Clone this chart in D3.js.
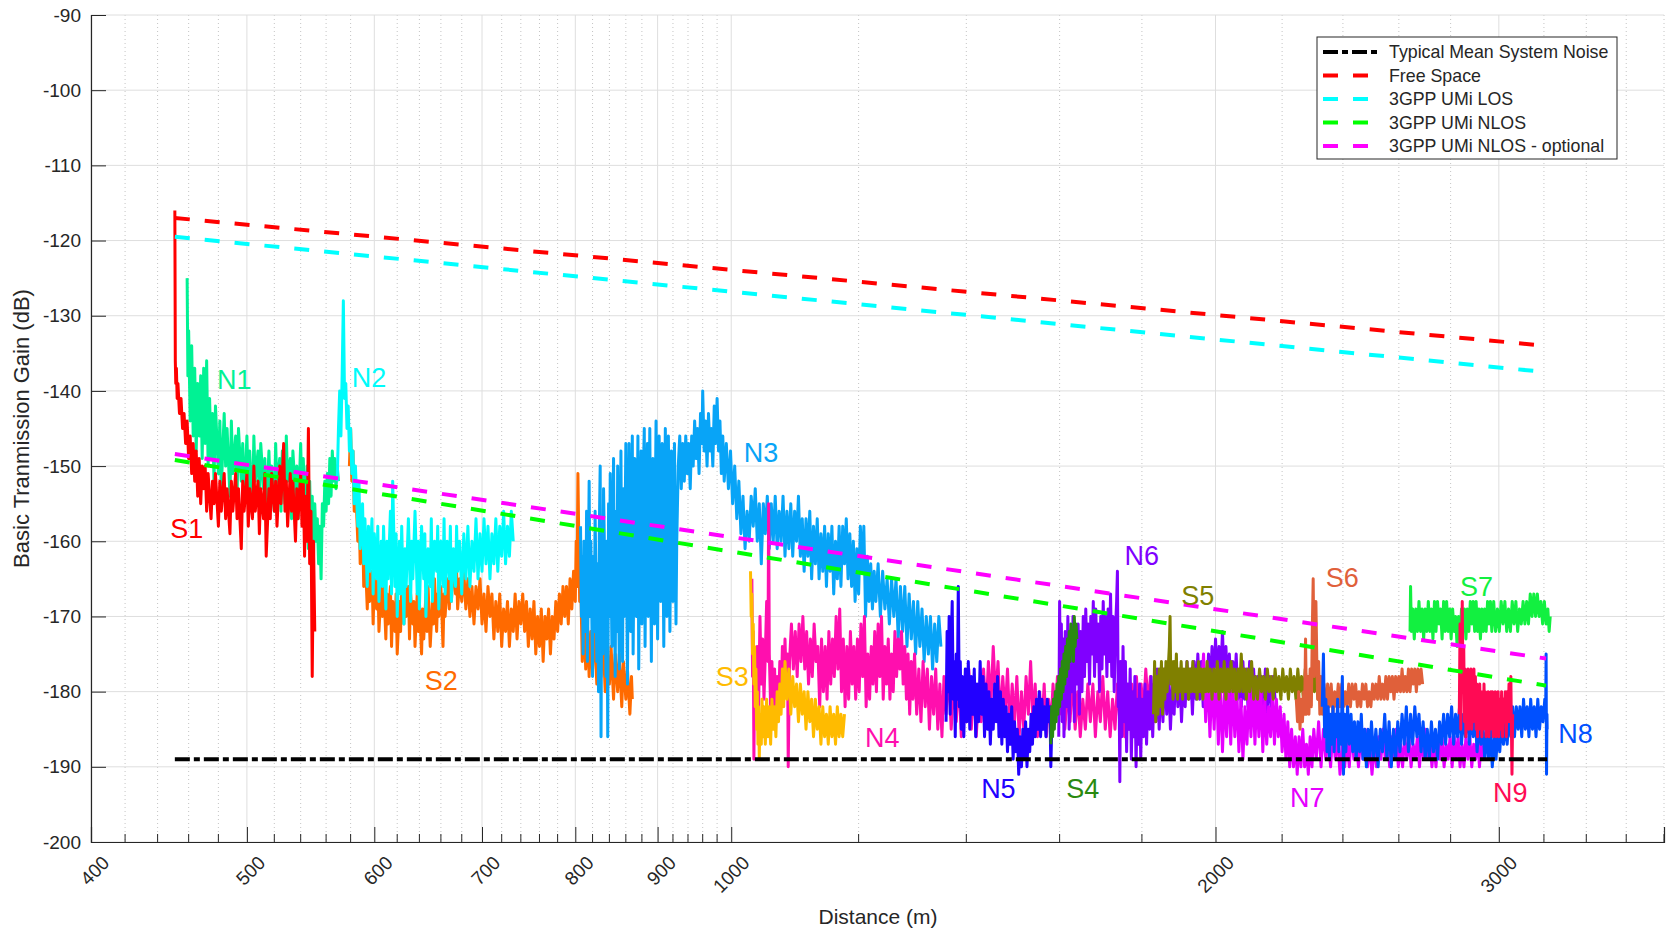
<!DOCTYPE html>
<html>
<head>
<meta charset="utf-8">
<script src="https://cdn.jsdelivr.net/npm/d3@7"></script>
<style>
  body { margin: 0; background: #fff; }
  svg { font-family: "Liberation Sans", Arial, sans-serif; }
</style>
</head>
<body>
<script>
// ---- tick values ----
const xTickValues = [400, 500, 600, 700, 800, 900, 1000, 2000, 3000];
const xMinorTicks = [420, 440, 460, 480, 520, 540, 560, 580, 620, 640, 660, 680, 720, 740, 760, 780,
  820, 840, 860, 880, 920, 940, 960, 980, 1200, 1400, 1600, 1800, 2200, 2400, 2600, 2800,
  3200, 3400, 3600, 3800];
const yTickValues = [-200, -190, -180, -170, -160, -150, -140, -130, -120, -110, -100, -90];

// ---- model lines (distance m, gain dB) ----
const noiseLine = [[451, -189.0], [3215, -189.0]];
const freeSpace = [[451, -117.0], [3210, -134.0]];
const umiLos = [[451, -119.5], [3210, -137.5]];
const umiNlos = [[451, -149.2], [3210, -179.2]];
const umiNlosOpt = [[451, -148.4], [3210, -175.6]];

// ---- measured routes (distance m, gain dB) ----
const n1 = [[459,-125],[459.5,-138],[460,-132],[461,-144],[462,-134],[463,-146],[464,-137],[465,-148],[466,-139],[467,-146],[468,-138],[469,-149],[470,-137],[471,-147],[472,-136],[473,-150],[474,-141],[475,-149],[476,-143],[477,-152],[478,-142],[480,-151],[481,-144],[482,-153],[484,-143],[485,-150],[486,-145],[488,-154],[489,-144],[490,-151],[492,-146],[493,-154],[494,-145],[496,-152],[497,-147],[498,-155],[500,-146],[501,-153],[502,-148],[504,-156],[505,-146],[506,-152],[508,-148],[509,-155],[510,-147],[512,-153],[513,-149],[514,-157],[516,-148],[517,-154],[518,-150],[520,-156],[521,-147],[522,-153],[524,-149],[525,-156],[526,-148],[528,-155],[529,-146],[530,-152],[532,-149],[533,-157],[534,-148],[536,-154],[537,-150],[538,-157],[540,-147],[541,-155],[542,-149],[544,-158],[545,-150],[546,-161],[547,-152],[548,-160],[549,-154],[550,-162],[551,-155],[552,-160],[553,-157],[554,-163],[555,-158],[556,-165],[557,-155],[558,-158],[559,-152],[560,-156],[561,-151],[562,-155],[563,-149],[564,-154],[565,-148],[566,-152],[567,-149],[568,-153],[569,-150],[570,-152]];
const s1 = [[451,-116],[451.3,-136],[451.6,-139],[452,-137],[452.5,-141],[453,-139],[454,-143],[455,-141],[456,-145],[457,-143],[458,-147],[459,-144],[460,-149],[461,-146],[462,-151],[463,-147],[464,-152],[465,-148],[466,-154],[467,-149],[468,-155],[469,-150],[470,-153],[471,-150],[472,-156],[473,-151],[475,-157],[476,-152],[477,-155],[478,-151],[480,-158],[481,-152],[482,-156],[484,-151],[485,-157],[486,-153],[488,-159],[489,-152],[490,-156],[492,-151],[493,-157],[494,-153],[496,-161],[497,-152],[498,-156],[500,-151],[501,-158],[502,-153],[504,-157],[505,-150],[506,-156],[508,-152],[509,-159],[510,-153],[512,-157],[513,-151],[514,-162],[516,-153],[517,-157],[518,-151],[520,-156],[521,-152],[522,-158],[524,-150],[525,-155],[526,-151],[527,-147],[528,-156],[529,-152],[530,-158],[532,-151],[533,-156],[534,-152],[536,-160],[537,-153],[538,-157],[540,-151],[541,-158],[542,-152],[543,-162],[544,-154],[545,-160],[546,-145],[547,-163],[548,-156],[549,-178],[550,-160],[551,-172]];
const s2 = [[579,-150],[580,-145],[581,-152],[582,-148],[583,-156],[584,-152],[586,-160],[587,-155],[588,-163],[590,-158],[591,-166],[592,-161],[594,-169],[595,-163],[596,-168],[598,-164],[599,-171],[600,-165],[602,-169],[603,-164],[604,-172],[606,-166],[607,-170],[608,-165],[610,-173],[611,-167],[612,-171],[614,-166],[615,-174],[616,-168],[618,-172],[619,-167],[620,-175],[622,-168],[623,-172],[624,-166],[626,-171],[627,-165],[628,-170],[630,-166],[631,-173],[632,-167],[634,-171],[635,-168],[636,-174],[638,-167],[639,-172],[640,-168],[642,-175],[643,-169],[644,-173],[646,-167],[647,-172],[648,-166],[650,-174],[652,-168],[653,-171],[654,-165],[656,-172],[657,-167],[658,-170],[660,-166],[662,-174],[663,-167],[664,-170],[666,-165],[668,-169],[669,-164],[670,-168],[672,-163],[674,-167],[675,-164],[676,-169],[678,-165],[680,-168],[682,-164],[684,-169],[686,-165],[688,-170],[690,-166],[692,-171],[694,-166],[696,-169],[698,-165],[700,-171],[702,-167],[704,-172],[706,-166],[708,-170],[710,-167],[712,-173],[714,-168],[716,-172],[718,-167],[720,-174],[722,-169],[724,-172],[726,-168],[728,-174],[730,-169],[732,-172],[734,-167],[736,-173],[738,-168],[740,-171],[742,-167],[744,-172],[746,-168],[748,-174],[750,-169],[752,-173],[754,-168],[756,-175],[758,-170],[760,-174],[762,-169],[764,-176],[766,-170],[768,-173],[770,-169],[772,-175],[774,-170],[776,-173],[778,-168],[780,-172],[782,-167],[784,-171],[786,-166],[788,-170],[790,-166],[792,-171],[794,-165],[796,-169],[798,-164],[800,-168],[801,-160],[802,-166],[803,-151],[804,-160],[805,-168],[806,-164],[808,-176],[810,-170],[812,-177],[814,-171],[816,-178],[818,-172],[820,-177],[822,-171],[825,-179],[827,-173],[830,-178],[832,-172],[835,-180],[837,-174],[840,-179],[842,-174],[845,-181],[847,-175],[850,-180],[852,-175],[855,-182],[857,-176],[860,-181],[862,-177],[865,-183],[867,-178],[868,-181]];
const n2 = [[569,-152],[570,-145],[571,-140],[572,-146],[573,-138],[574,-128],[575,-141],[576,-139],[577,-145],[578,-142],[579,-148],[580,-145],[581,-151],[582,-148],[583,-155],[584,-150],[586,-158],[587,-152],[588,-161],[590,-155],[591,-163],[592,-157],[594,-166],[595,-158],[596,-164],[598,-157],[599,-167],[600,-159],[602,-165],[603,-158],[604,-168],[606,-160],[607,-166],[608,-158],[610,-169],[611,-160],[612,-165],[614,-156],[615,-167],[616,-152],[618,-166],[619,-159],[620,-170],[622,-160],[623,-167],[624,-158],[626,-171],[627,-161],[628,-166],[630,-157],[632,-168],[633,-160],[634,-165],[636,-156],[638,-167],[639,-160],[640,-169],[642,-158],[644,-165],[645,-159],[646,-170],[648,-161],[650,-166],[651,-157],[652,-168],[654,-160],[656,-164],[657,-158],[658,-169],[660,-160],[662,-166],[663,-157],[664,-167],[666,-160],[668,-165],[669,-158],[670,-168],[672,-161],[674,-166],[675,-158],[676,-164],[678,-160],[680,-167],[682,-159],[684,-165],[686,-158],[688,-166],[690,-160],[692,-164],[694,-157],[696,-165],[698,-159],[700,-164],[702,-157],[704,-163],[706,-158],[708,-165],[710,-159],[712,-163],[714,-157],[716,-164],[718,-158],[720,-162],[722,-156],[724,-163],[726,-158],[728,-162],[730,-156],[732,-160]];
const n3 = [[806,-158],[807,-170],[808,-162],[809,-175],[810,-160],[812,-172],[813,-156],[814,-176],[815,-165],[816,-152],[817,-170],[818,-160],[820,-178],[821,-162],[822,-172],[823,-156],[825,-176],[826,-163],[827,-180],[828,-158],[829,-150],[830,-186],[831,-160],[832,-175],[833,-153],[835,-168],[836,-178],[837,-160],[838,-186],[839,-155],[840,-170],[841,-151],[843,-174],[844,-160],[845,-149],[846,-166],[847,-178],[848,-156],[849,-172],[850,-150],[852,-177],[853,-162],[854,-148],[855,-168],[856,-176],[857,-153],[858,-170],[860,-147],[861,-165],[862,-179],[863,-158],[864,-147],[866,-172],[867,-160],[868,-146],[869,-175],[870,-163],[871,-149],[873,-170],[874,-158],[875,-146],[876,-177],[877,-162],[879,-148],[880,-171],[881,-155],[883,-145],[884,-174],[885,-160],[887,-147],[888,-170],[889,-156],[890,-145],[892,-176],[893,-160],[894,-149],[896,-171],[897,-155],[898,-144],[900,-173],[901,-158],[902,-146],[904,-168],[905,-154],[906,-147],[908,-174],[909,-159],[910,-145],[912,-170],[913,-155],[914,-146],[916,-172],[917,-158],[918,-148],[920,-168],[921,-153],[922,-147],[924,-171],[925,-160],
  [927,-150],[929,-146],[931,-153],[933,-147],[935,-152],[937,-146],[939,-151],[941,-147],[943,-153],[945,-146],[947,-150],[949,-144],[951,-149],[953,-145],[955,-151],[957,-143],[959,-147],[960,-140],[962,-148],[964,-144],[966,-150],[968,-143],[970,-148],[972,-145],[974,-150],[976,-142],[978,-147],[980,-141],[982,-148],[984,-144],[986,-151],[988,-146],[990,-152],[993,-147],[996,-153],[999,-148],[1002,-155],[1005,-150],[1008,-157],[1011,-152],[1014,-159],[1017,-154],[1020,-161],[1023,-156],[1026,-160],[1029,-154],[1032,-158],[1035,-153],[1038,-160],[1041,-155],[1044,-163],[1047,-155],[1050,-159],[1053,-154],[1056,-161],[1059,-155],[1062,-160],[1065,-154],[1068,-161],[1071,-156],[1074,-160],[1077,-154],[1080,-162],[1083,-156],[1086,-161],[1089,-155],[1092,-162],[1095,-156],[1098,-160],[1101,-154],[1104,-162],[1107,-157],[1110,-164],[1113,-157],[1116,-162],[1119,-156],[1122,-165],[1125,-158],[1128,-163],[1131,-157],[1134,-165],[1137,-159],[1140,-164],[1143,-158],[1146,-166],[1149,-159],[1152,-164],[1155,-158],[1158,-167],[1161,-160],[1164,-165],[1167,-158],[1170,-166],[1173,-158],[1176,-163],[1179,-157],[1182,-165],[1185,-159],[1188,-166],[1191,-160],[1194,-168],[1197,-161],[1200,-167],[1203,-158],[1206,-164],[1209,-158],[1212,-170],[1215,-162],[1218,-168],[1221,-163],[1224,-169],[1227,-164],[1230,-168],[1234,-163],[1238,-170],[1242,-164],[1246,-169],[1250,-165],[1254,-171],[1258,-165],[1262,-170],[1266,-165],[1270,-173],[1274,-166],[1278,-172],[1282,-166],[1286,-174],[1290,-167],[1294,-173],[1298,-168],[1302,-175],[1306,-168],[1310,-174],[1314,-169],[1318,-176],[1322,-170],[1326,-175],[1330,-170],[1334,-177],[1338,-171],[1342,-176],[1346,-170],[1350,-174]];
const n4 = [[1030,-165],[1031,-178],[1032,-172],[1033,-189],[1034,-176],[1036,-183],[1038,-174],[1040,-182],[1042,-170],[1044,-179],[1046,-173],[1048,-181],[1050,-175],[1052,-168],[1054,-176],[1055,-155],[1056,-175],[1058,-182],[1060,-176],[1062,-183],[1064,-177],[1066,-184],[1068,-178],[1070,-183],[1072,-176],[1074,-181],[1076,-174],[1078,-180],[1080,-173],[1082,-179],[1084,-175],[1085,-190],[1087,-176],[1090,-171],[1093,-177],[1096,-172],[1099,-178],[1102,-171],[1105,-176],[1108,-170],[1111,-177],[1114,-172],[1117,-179],[1120,-173],[1123,-178],[1126,-171],[1129,-176],[1132,-174],[1135,-182],[1138,-173],[1141,-180],[1144,-174],[1147,-181],[1150,-172],[1153,-179],[1156,-173],[1159,-178],[1162,-170],[1165,-177],[1168,-169],[1171,-180],[1174,-173],[1177,-182],[1180,-174],[1183,-181],[1186,-172],[1189,-179],[1192,-174],[1195,-181],[1198,-173],[1201,-180],[1204,-171],[1207,-178],[1210,-170],[1213,-182],[1216,-175],[1219,-181],[1222,-174],[1225,-179],[1228,-172],[1231,-180],[1234,-171],[1237,-178],[1240,-170],[1243,-181],[1246,-174],[1249,-179],[1252,-173],[1255,-181],[1258,-175],[1261,-180],[1264,-172],[1267,-178],[1270,-173],[1273,-177],[1276,-172],[1279,-179],[1282,-174],[1285,-181],[1288,-175],[1291,-183],[1294,-176],[1297,-181],[1300,-175],[1304,-183],[1308,-177],[1312,-184],[1316,-176],[1320,-182],[1324,-177],[1328,-185],[1332,-178],[1336,-183],[1340,-177],[1344,-185],[1348,-179],[1352,-186],[1356,-178],[1360,-183],[1365,-177],[1370,-185],[1375,-179],[1380,-184],[1385,-178],[1390,-186],[1395,-180],[1400,-184],[1405,-177],[1410,-185],[1415,-179],[1420,-186],[1425,-180],[1430,-184],[1435,-177],[1440,-183],[1445,-176],[1450,-182],[1455,-174],[1460,-181],[1465,-176],[1470,-184],[1475,-178],[1480,-183],[1485,-177],[1490,-185],[1495,-179],[1500,-184],[1505,-178],[1510,-186],[1515,-180],[1520,-185],[1525,-178],[1530,-183],[1535,-176],[1540,-184],[1545,-179],[1550,-186],[1555,-180],[1560,-185],[1565,-179],[1570,-186],[1575,-181],[1580,-185],[1585,-179],[1590,-184],[1595,-178],[1600,-183],[1606,-179],[1612,-185],[1618,-180],[1624,-184],[1630,-178],[1636,-185],[1642,-180],[1648,-186],[1654,-181],[1660,-185],[1666,-179],[1672,-184],[1678,-179],[1684,-186],[1690,-180],[1696,-184],[1702,-178],[1708,-185],[1714,-180],[1720,-186],[1726,-181],[1732,-185],[1738,-179],[1744,-184],[1750,-180],[1756,-186],[1762,-181],[1768,-185],[1774,-179],[1780,-183],[1786,-178],[1792,-184],[1798,-179],[1804,-183],[1810,-177],[1816,-182],[1822,-178],[1828,-183],[1834,-179],[1840,-182],[1845,-180]];
const s3 = [[1028,-164],[1029,-170],[1030,-167],[1031,-175],[1032,-171],[1033,-179],[1034,-174],[1035,-182],[1036,-177],[1037,-185],[1038,-180],[1039,-187],[1040,-182],[1041,-189],[1042,-183],[1044,-187],[1045,-181],[1047,-186],[1048,-182],[1050,-187],[1052,-181],[1054,-186],[1056,-182],[1058,-187],[1060,-181],[1062,-185],[1064,-182],[1066,-186],[1068,-180],[1070,-184],[1072,-179],[1074,-183],[1076,-177],[1078,-182],[1080,-176],[1083,-181],[1086,-177],[1089,-183],[1092,-178],[1095,-182],[1098,-179],[1101,-184],[1104,-179],[1107,-183],[1110,-180],[1113,-185],[1116,-180],[1119,-184],[1122,-181],[1125,-186],[1128,-181],[1131,-185],[1134,-182],[1137,-187],[1140,-182],[1143,-186],[1146,-183],[1149,-187],[1152,-182],[1155,-186],[1158,-183],[1161,-187],[1164,-182],[1167,-186],[1170,-183],[1173,-186],[1176,-183]];
const n5 = [[1360,-184],[1362,-172],[1364,-180],[1366,-170],[1368,-183],[1370,-174],[1372,-168],[1374,-181],[1376,-176],[1378,-186],[1380,-175],[1382,-181],[1384,-166],[1386,-182],[1388,-176],[1390,-185],[1392,-178],[1395,-186],[1398,-177],[1401,-184],[1404,-176],[1407,-185],[1410,-178],[1413,-183],[1416,-177],[1419,-186],[1422,-179],[1425,-184],[1428,-176],[1431,-183],[1434,-178],[1437,-186],[1440,-179],[1443,-185],[1446,-180],[1449,-187],[1452,-181],[1455,-185],[1458,-179],[1461,-184],[1464,-178],[1467,-186],[1470,-180],[1473,-187],[1476,-181],[1479,-186],[1482,-182],[1485,-188],[1488,-183],[1491,-187],[1494,-182],[1497,-189],[1500,-184],[1503,-188],[1506,-185],[1509,-191],[1512,-186],[1515,-190],[1518,-185],[1521,-189],[1524,-184],[1527,-190],[1530,-185],[1533,-188],[1536,-183],[1539,-187],[1542,-182],[1545,-186],[1548,-181],[1551,-185],[1554,-180],[1557,-186],[1560,-181],[1563,-185],[1566,-182],[1569,-186],[1572,-181],[1575,-184],[1578,-182],[1580,-190],[1582,-185],[1584,-183]];
const n6 = [[1598,-186],[1600,-168],[1602,-180],[1604,-171],[1606,-184],[1608,-173],[1610,-186],[1613,-172],[1616,-182],[1619,-170],[1622,-185],[1625,-173],[1628,-180],[1631,-170],[1634,-184],[1637,-172],[1640,-179],[1643,-171],[1646,-183],[1649,-172],[1652,-180],[1655,-170],[1658,-178],[1661,-169],[1664,-176],[1667,-171],[1670,-179],[1673,-170],[1676,-175],[1679,-168],[1682,-178],[1685,-169],[1688,-176],[1691,-171],[1694,-180],[1697,-170],[1700,-177],[1703,-168],[1706,-175],[1709,-170],[1712,-178],[1715,-169],[1718,-176],[1721,-167],[1724,-178],[1727,-170],[1730,-180],[1733,-172],[1736,-168],[1738,-164],[1740,-182],[1742,-178],[1744,-192],[1746,-176],[1749,-186],[1752,-174],[1755,-184],[1758,-176],[1761,-188],[1764,-179],[1767,-185],[1770,-177],[1773,-189],[1776,-180],[1779,-186],[1782,-178],[1785,-190],[1788,-181],[1791,-187],[1794,-179],[1797,-189],[1800,-181],[1804,-186],[1808,-179],[1812,-187],[1816,-180],[1820,-185],[1824,-178],[1828,-186],[1832,-179],[1836,-184],[1840,-177],[1845,-185],[1850,-178],[1855,-184],[1860,-177],[1865,-183],[1870,-178],[1875,-185],[1880,-179],[1885,-183],[1890,-176],[1895,-182],[1900,-177],[1905,-184],[1910,-178],[1915,-182],[1920,-176],[1925,-181],[1930,-177],[1935,-183],[1940,-176],[1945,-181],[1950,-175],[1955,-181],[1960,-176],[1965,-182],[1970,-177],[1975,-181],[1980,-175],[1985,-180],[1990,-174],[1995,-179],[2000,-173],[2005,-179],[2010,-174],[2015,-178],[2020,-172],[2025,-179],[2030,-174],[2035,-180],[2040,-175],[2045,-181],[2050,-176],[2055,-180],[2060,-175],[2065,-181],[2070,-177],[2075,-182],[2080,-176],[2085,-181],[2090,-177],[2095,-182],[2100,-176],[2106,-181],[2112,-177],[2118,-182],[2124,-178],[2130,-183],[2136,-178],[2142,-182],[2148,-177],[2154,-183],[2160,-178],[2166,-182],[2172,-178],[2178,-181]];
const s4 = [[1580,-187],[1582,-182],[1584,-186],[1586,-181],[1588,-185],[1590,-180],[1592,-184],[1594,-179],[1596,-183],[1598,-178],[1600,-182],[1602,-177],[1604,-181],[1606,-176],[1608,-180],[1610,-175],[1612,-179],[1614,-174],[1616,-178],[1618,-173],[1620,-177],[1622,-172],[1624,-176],[1626,-171],[1628,-175],[1630,-172],[1632,-176],[1634,-170],[1636,-174],[1638,-171],[1640,-173]];
const n7 = [[1960,-180],[1966,-175],[1972,-184],[1978,-177],[1984,-186],[1990,-178],[1996,-185],[2002,-177],[2008,-187],[2014,-179],[2020,-188],[2026,-180],[2032,-186],[2038,-178],[2044,-187],[2050,-179],[2056,-186],[2062,-180],[2068,-188],[2074,-181],[2080,-189],[2086,-182],[2092,-187],[2098,-180],[2104,-186],[2110,-179],[2116,-187],[2122,-180],[2128,-186],[2134,-179],[2140,-188],[2146,-181],[2152,-187],[2158,-182],[2164,-186],[2170,-180],[2176,-187],[2182,-181],[2188,-186],[2194,-182],[2200,-188],[2206,-183],[2212,-189],[2218,-184],[2224,-190],[2230,-185],[2236,-190],[2242,-186],[2248,-191],[2254,-186],[2260,-190],[2266,-185],[2272,-190],[2278,-187],[2284,-191],[2290,-186],[2296,-190],[2302,-185],[2310,-189],[2318,-184],[2326,-190],[2334,-185],[2342,-189],[2350,-186],[2358,-190],[2366,-185],[2374,-189],[2382,-186],[2390,-191],[2398,-187],[2406,-190],[2414,-186],[2422,-190],[2430,-185],[2438,-189],[2446,-186],[2454,-190],[2462,-186],[2470,-189],[2478,-185],[2486,-190],[2494,-187],[2502,-191],[2510,-187],[2518,-190],[2526,-186],[2534,-189],[2542,-185],[2550,-189],[2558,-186],[2566,-190],[2574,-186],[2582,-189],[2590,-185],[2598,-190],[2606,-187],[2614,-190],[2622,-186],[2630,-189],[2638,-186],[2646,-190],[2654,-187],[2662,-189],[2670,-186],[2678,-190],[2686,-186],[2694,-189],[2702,-185],[2710,-189],[2718,-186],[2726,-190],[2734,-187],[2742,-190],[2750,-186],[2758,-189],[2766,-186],[2774,-190],[2782,-187],[2790,-189],[2798,-186],[2806,-190],[2814,-186],[2822,-189],[2830,-186],[2838,-190],[2846,-187],[2854,-190],[2862,-186],[2870,-189],[2878,-186],[2886,-190],[2894,-187],[2902,-189],[2910,-186],[2918,-190],[2926,-186],[2934,-189],[2942,-186],[2950,-188]];
const s5 = [[1830,-183],[1833,-176],[1836,-184],[1839,-178],[1842,-183],[1845,-177],[1848,-182],[1851,-176],[1854,-183],[1857,-177],[1860,-181],[1863,-176],[1866,-180],[1869,-177],[1872,-174],[1874,-170],[1876,-179],[1879,-176],[1882,-181],[1885,-176],[1888,-180],[1891,-175],[1894,-181],[1897,-177],[1900,-180],[1904,-176],[1908,-181],[1912,-177],[1916,-180],[1920,-176],[1924,-181],[1928,-177],[1932,-180],[1936,-176],[1940,-180],[1944,-177],[1948,-181],[1952,-176],[1956,-180],[1960,-177],[1964,-181],[1968,-177],[1972,-180],[1976,-176],[1980,-180],[1985,-177],[1990,-181],[1995,-177],[2000,-180],[2005,-176],[2010,-181],[2015,-177],[2020,-180],[2025,-176],[2030,-181],[2035,-177],[2040,-180],[2045,-176],[2050,-180],[2055,-177],[2060,-181],[2065,-177],[2070,-180],[2075,-175],[2080,-180],[2085,-177],[2090,-181],[2095,-177],[2100,-180],[2106,-176],[2112,-181],[2118,-178],[2124,-181],[2130,-177],[2136,-180],[2142,-178],[2148,-181],[2154,-177],[2160,-180],[2166,-178],[2172,-181],[2178,-177],[2184,-180],[2190,-178],[2196,-181],[2202,-177],[2208,-180],[2214,-178],[2220,-181],[2226,-177],[2232,-180],[2238,-178],[2244,-181],[2250,-177],[2256,-180],[2262,-178],[2268,-181],[2274,-177],[2280,-180],[2286,-178],[2292,-181],[2298,-177],[2304,-180],[2310,-178],[2316,-181],[2322,-178],[2328,-180]];
const s6 = [[2245,-181],[2249,-184],[2253,-180],[2257,-185],[2261,-181],[2265,-184],[2269,-180],[2272,-183],[2275,-173],[2278,-183],[2282,-178],[2286,-183],[2290,-177],[2294,-182],[2297,-172],[2300,-165],[2303,-178],[2306,-172],[2309,-168],[2312,-176],[2315,-181],[2318,-176],[2322,-183],[2326,-178],[2330,-183],[2336,-179],[2342,-183],[2348,-179],[2354,-182],[2360,-179],[2366,-183],[2372,-180],[2378,-182],[2384,-179],[2390,-182],[2396,-179],[2402,-182],[2408,-180],[2414,-182],[2420,-179],[2426,-182],[2432,-179],[2438,-181],[2444,-179],[2450,-182],[2456,-180],[2462,-182],[2468,-179],[2474,-181],[2480,-179],[2486,-182],[2492,-180],[2498,-182],[2504,-179],[2510,-181],[2516,-179],[2522,-181],[2528,-178],[2534,-181],[2540,-179],[2546,-181],[2552,-178],[2558,-181],[2564,-178],[2570,-180],[2576,-178],[2582,-181],[2588,-178],[2594,-180],[2600,-178],[2606,-180],[2612,-177],[2618,-180],[2624,-178],[2630,-180],[2636,-177],[2642,-180],[2648,-177],[2654,-179],[2660,-177],[2666,-180],[2672,-177],[2678,-179],[2684,-177],[2690,-179]];
const n8 = [[2330,-182],[2334,-175],[2338,-186],[2342,-181],[2346,-188],[2350,-182],[2354,-189],[2358,-183],[2362,-187],[2366,-182],[2370,-188],[2374,-183],[2378,-186],[2382,-181],[2386,-188],[2390,-183],[2394,-187],[2398,-178],[2402,-191],[2406,-183],[2410,-188],[2416,-182],[2422,-187],[2428,-183],[2434,-188],[2440,-184],[2446,-189],[2452,-184],[2458,-188],[2464,-183],[2470,-189],[2476,-185],[2482,-190],[2488,-185],[2494,-189],[2500,-184],[2508,-189],[2516,-185],[2524,-190],[2532,-185],[2540,-188],[2548,-183],[2556,-189],[2564,-184],[2572,-190],[2580,-185],[2588,-189],[2596,-184],[2604,-188],[2612,-183],[2620,-187],[2628,-182],[2636,-188],[2644,-183],[2652,-187],[2660,-182],[2668,-186],[2676,-183],[2684,-188],[2692,-184],[2700,-189],[2708,-185],[2716,-189],[2724,-184],[2732,-188],[2740,-185],[2748,-189],[2756,-184],[2764,-187],[2772,-183],[2780,-187],[2788,-183],[2796,-186],[2804,-182],[2812,-187],[2820,-183],[2828,-186],[2836,-182],[2844,-187],[2852,-183],[2860,-186],[2868,-182],[2876,-187],[2884,-183],[2892,-186],[2900,-183],[2908,-188],[2916,-184],[2924,-187],[2932,-184],[2940,-189],[2948,-185],[2956,-189],[2964,-185],[2972,-190],[2980,-186],[2988,-189],[2996,-185],[3004,-188],[3012,-184],[3020,-187],[3028,-184],[3036,-187],[3044,-183],[3052,-186],[3060,-182],[3068,-186],[3076,-182],[3084,-185],[3092,-182],[3100,-186],[3108,-181],[3116,-185],[3124,-182],[3132,-186],[3140,-181],[3148,-185],[3156,-182],[3164,-186],[3172,-181],[3180,-185],[3188,-182],[3196,-184],[3204,-181],[3208,-183],[3210,-175],[3212,-191],[3214,-183],[3215,-185]];
const s7 = [[2642,-172],[2644,-166],[2647,-172],[2652,-169],[2658,-173],[2664,-169],[2670,-172],[2676,-168],[2682,-172],[2688,-169],[2694,-173],[2700,-169],[2706,-172],[2712,-168],[2718,-172],[2724,-169],[2730,-173],[2736,-168],[2742,-172],[2748,-168],[2754,-171],[2760,-169],[2766,-173],[2772,-168],[2778,-172],[2784,-168],[2790,-172],[2796,-169],[2802,-173],[2808,-169],[2814,-172],[2820,-170],[2826,-174],[2832,-170],[2838,-173],[2844,-169],[2850,-172],[2856,-169],[2862,-173],[2868,-169],[2874,-172],[2880,-168],[2886,-171],[2892,-168],[2898,-172],[2904,-168],[2910,-172],[2916,-169],[2922,-173],[2928,-169],[2934,-172],[2940,-169],[2946,-172],[2952,-168],[2958,-171],[2964,-168],[2970,-172],[2978,-168],[2986,-172],[2994,-169],[3002,-172],[3010,-168],[3018,-171],[3026,-168],[3034,-172],[3042,-169],[3050,-172],[3058,-168],[3066,-171],[3074,-168],[3082,-172],[3090,-169],[3098,-171],[3106,-168],[3114,-171],[3122,-168],[3130,-171],[3138,-167],[3146,-170],[3154,-167],[3162,-170],[3170,-167],[3178,-170],[3186,-168],[3194,-171],[3202,-168],[3210,-171],[3218,-169],[3224,-172],[3229,-170]];
const n9 = [[2835,-183],[2838,-171],[2841,-185],[2844,-176],[2847,-168],[2850,-180],[2853,-174],[2856,-184],[2859,-177],[2862,-186],[2865,-178],[2868,-184],[2871,-177],[2874,-185],[2877,-178],[2880,-184],[2883,-177],[2886,-185],[2889,-179],[2892,-184],[2895,-177],[2898,-183],[2901,-178],[2904,-185],[2907,-179],[2910,-186],[2913,-180],[2916,-185],[2919,-179],[2922,-184],[2925,-180],[2928,-186],[2931,-180],[2934,-185],[2937,-179],[2940,-184],[2943,-180],[2946,-186],[2949,-181],[2952,-185],[2955,-180],[2958,-186],[2961,-181],[2964,-185],[2967,-180],[2970,-184],[2973,-180],[2976,-186],[2979,-181],[2982,-185],[2985,-180],[2988,-186],[2991,-181],[2994,-185],[2997,-180],[3000,-186],[3004,-181],[3008,-185],[3012,-180],[3016,-186],[3020,-181],[3024,-184],[3028,-180],[3032,-186],[3036,-180],[3040,-184],[3044,-179],[3048,-184],[3052,-178],[3055,-186],[3057,-191],[3060,-183]];

// draw order and colours of the routes, with label anchors (distance, gain)
const routes = [
  { name: 'N1', data: n1, color: '#00f294', lx: 479, ly: -139.8 },
  { name: 'S1', data: s1, color: '#ff0000', lx: 448, ly: -159.6 },
  { name: 'S2', data: s2, color: '#ff6a00', lx: 645, ly: -179.8 },
  { name: 'N2', data: n2, color: '#00fbfb', lx: 581, ly: -139.5 },
  { name: 'N3', data: n3, color: '#08a4f7', lx: 1018, ly: -149.5 },
  { name: 'N4', data: n4, color: '#ff0fae', lx: 1211, ly: -187.4 },
  { name: 'S3', data: s3, color: '#ffbb00', lx: 978, ly: -179.2 },
  { name: 'N5', data: n5, color: '#2200ff', lx: 1430, ly: -194.1 },
  { name: 'N6', data: n6, color: '#8000ff', lx: 1756, ly: -163.1 },
  { name: 'S4', data: s4, color: '#2a8a10', lx: 1615, ly: -194.1 },
  { name: 'N7', data: n7, color: '#e600ff', lx: 2225, ly: -195.4 },
  { name: 'S5', data: s5, color: '#808000', lx: 1904, ly: -168.5 },
  { name: 'S6', data: s6, color: '#e0603a', lx: 2342, ly: -166.1 },
  { name: 'N8', data: n8, color: '#0050ff', lx: 3266, ly: -186.8 },
  { name: 'S7', data: s7, color: '#12f040', lx: 2838, ly: -167.3 },
  { name: 'N9', data: n9, color: '#ff0a54', lx: 2975, ly: -194.7 }
];

const models = [
  { name: 'Typical Mean System Noise', data: noiseLine, color: '#000000', dash: '15,4,6,4' },
  { name: 'Free Space', data: freeSpace, color: '#ff0000', dash: '15,15' },
  { name: '3GPP UMi LOS', data: umiLos, color: '#00ffff', dash: '15,15' },
  { name: '3GPP UMi NLOS', data: umiNlos, color: '#00ff00', dash: '15,15' },
  { name: '3GPP UMi NLOS - optional', data: umiNlosOpt, color: '#ff00ff', dash: '15,15' }
];

const svgW = 1666, svgH = 934;
const margin = { left: 91, right: 2, top: 15, bottom: 92 };
const width = svgW - margin.left - margin.right;
const height = svgH - margin.top - margin.bottom;

const svg = d3.select('body').append('svg')
  .attr('width', svgW).attr('height', svgH);
const g = svg.append('g').attr('transform', `translate(${margin.left},${margin.top})`);

const x = d3.scaleLog().domain([400, 3800]).range([0, width]);
const y = d3.scaleLinear().domain([-200, -90]).range([height, 0]);

// grid
g.append('g').selectAll('line').data(xMinorTicks).enter().append('line')
  .attr('x1', d => x(d)).attr('x2', d => x(d)).attr('y1', 0).attr('y2', height)
  .attr('stroke', '#c4c4c4').attr('stroke-width', 1).attr('stroke-dasharray', '1,3');
g.append('g').selectAll('line').data(xTickValues).enter().append('line')
  .attr('x1', d => x(d)).attr('x2', d => x(d)).attr('y1', 0).attr('y2', height)
  .attr('stroke', '#dedede').attr('stroke-width', 1);
g.append('g').selectAll('line').data(yTickValues).enter().append('line')
  .attr('x1', 0).attr('x2', width).attr('y1', d => y(d)).attr('y2', d => y(d))
  .attr('stroke', '#dedede').attr('stroke-width', 1);

svg.append('clipPath').attr('id', 'plot').append('rect')
  .attr('width', width).attr('height', height);

const line = d3.line().x(d => x(d[0])).y(d => y(d[1]));
const plot = g.append('g').attr('clip-path', 'url(#plot)');

plot.selectAll('path.route').data(routes).enter().append('path')
  .attr('class', 'route')
  .attr('d', d => line(d.data))
  .attr('fill', 'none')
  .attr('stroke', d => d.color)
  .attr('stroke-width', 3)
  .attr('stroke-linejoin', 'round');

plot.selectAll('path.model').data(models).enter().append('path')
  .attr('class', 'model')
  .attr('d', d => line(d.data))
  .attr('fill', 'none')
  .attr('stroke', d => d.color)
  .attr('stroke-width', 4)
  .attr('stroke-dasharray', d => d.dash);

// route labels
g.selectAll('text.lbl').data(routes).enter().append('text')
  .attr('x', d => x(d.lx)).attr('y', d => y(d.ly))
  .attr('fill', d => d.color)
  .attr('font-size', 27)
  .text(d => d.name);

// axes
const axisColor = '#262626';
const xAxis = g.append('g').attr('transform', `translate(0,${height})`)
  .call(d3.axisBottom(x).tickValues(xTickValues).tickSize(-15).tickFormat(d => String(d)));
xAxis.selectAll('text')
  .attr('font-size', 19).attr('fill', axisColor)
  .attr('text-anchor', 'end')
  .attr('transform', 'translate(7,10) rotate(-45)')
  .attr('dy', '0.9em').attr('x', 0).attr('y', 0);
xAxis.append('g').selectAll('line').data(xMinorTicks).enter().append('line')
  .attr('x1', d => x(d)).attr('x2', d => x(d)).attr('y1', 0).attr('y2', -8)
  .attr('stroke', axisColor);

const yAxis = g.append('g')
  .call(d3.axisLeft(y).tickValues(yTickValues).tickSize(-15).tickPadding(10).tickFormat(d => String(d)));
yAxis.selectAll('text').attr('font-size', 19).attr('fill', axisColor);

[xAxis, yAxis].forEach(a => {
  a.select('.domain').attr('stroke', axisColor).attr('stroke-width', 1.2);
  a.selectAll('.tick line').attr('stroke', axisColor);
});

svg.append('text')
  .attr('x', 878).attr('y', 924)
  .attr('text-anchor', 'middle').attr('font-size', 21).attr('fill', axisColor)
  .text('Distance (m)');
svg.append('text')
  .attr('transform', `translate(29,${margin.top + height / 2}) rotate(-90)`)
  .attr('text-anchor', 'middle').attr('font-size', 22).attr('fill', axisColor)
  .text('Basic Tranmission Gain (dB)');

// legend
const legend = svg.append('g').attr('transform', 'translate(1317,37)');
legend.append('rect').attr('width', 300).attr('height', 122)
  .attr('fill', '#fff').attr('stroke', axisColor).attr('stroke-width', 1);
const item = legend.selectAll('g.item').data(models).enter().append('g')
  .attr('transform', (d, i) => `translate(0,${15 + i * 23.5})`);
item.append('line').attr('x1', 6).attr('x2', 64).attr('y1', 0).attr('y2', 0)
  .attr('stroke', d => d.color).attr('stroke-width', 4).attr('stroke-dasharray', d => d.dash);
item.append('text').attr('x', 72).attr('y', 6).attr('font-size', 17.8).attr('fill', axisColor)
  .text(d => d.name);
</script>
</body>
</html>
